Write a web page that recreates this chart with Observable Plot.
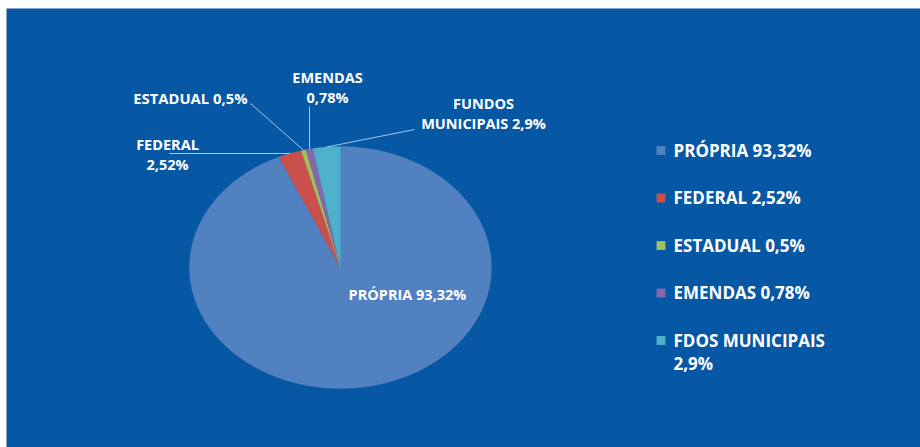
<!DOCTYPE html>
<html>
<head>
<meta charset="utf-8">
<script src="https://cdn.jsdelivr.net/npm/d3@7"></script>
<script src="https://cdn.jsdelivr.net/npm/@observablehq/plot@0.6"></script>
<style>
  html, body { margin: 0; padding: 0; background: #ffffff; }
  svg { display: block; }
</style>
</head>
<body>
<div id="chart"></div>
<script>
// ---- data ----
const categories = ["PRÓPRIA", "FEDERAL", "ESTADUAL", "EMENDAS", "FDOS MUNICIPAIS"];
const labelNames = ["PRÓPRIA", "FEDERAL", "ESTADUAL", "EMENDAS", "FUNDOS MUNICIPAIS"];
const values = [93.32, 2.52, 0.5, 0.78, 2.9];
const valueLabels = ["93,32%", "2,52%", "0,5%", "0,78%", "2,9%"];
const colors = ["#5181c0", "#c9504c", "#a3c15b", "#8568a8", "#4eb0cb"];

// ---- layout (pixels) ----
const W = 920, H = 447;
const CX = 340, CY = 267, RX = 151, RY = 121;
const ux = px => (px - CX) / RX;
const uy = py => (CY - py) / RY;
const FONT = "'Open Sans', Lato, sans-serif";
const BG = "#0657a4";

// label placement (text anchor point in px, line breaks, leader end in px)
const labelLayout = [
  {x: 407, y: 293, anchor: "middle", text: (n, v) => `${n} ${v}`, leader: null},
  {x: 167, y: 153, anchor: "middle", text: (n, v) => `${n}\n${v}`, leader: [169, 153]},
  {x: 247, y: 99, anchor: "end", text: (n, v) => `${n} ${v}`, leader: [250, 103]},
  {x: 327, y: 86, anchor: "middle", text: (n, v) => `${n}\n${v}`, leader: [309, 106]},
  {x: 483, y: 112, anchor: "middle", text: (n, v) => `${n.split(" ")[0]}\n${n.split(" ").slice(1).join(" ")} ${v}`, leader: [414, 129]}
];

// ---- pie geometry from the data ----
const arcs = d3.pie().sort(null).value(d => d)(values);
const polys = [];
arcs.forEach((a, i) => {
  const name = categories[i];
  polys.push({name, x: 0, y: 0});
  const n = Math.max(2, Math.ceil((a.endAngle - a.startAngle) / (Math.PI / 360)));
  for (let k = 0; k <= n; k++) {
    const t = a.startAngle + (a.endAngle - a.startAngle) * k / n;
    polys.push({name, x: Math.sin(t), y: Math.cos(t)});
  }
  polys.push({name, x: 0, y: 0});
});

const labels = arcs.map((a, i) => {
  const L = labelLayout[i];
  const mid = (a.startAngle + a.endAngle) / 2;
  return {
    name: categories[i],
    text: L.text(labelNames[i], valueLabels[i]),
    x: ux(L.x), y: uy(L.y), anchor: L.anchor,
    lx1: L.leader ? ux(L.leader[0]) : null,
    ly1: L.leader ? uy(L.leader[1]) : null,
    lx2: Math.sin(mid), ly2: Math.cos(mid)
  };
});
const leaders = labels.filter(d => d.lx1 !== null);

const legendX = 673, legendY0 = 150, legendStep = 47.5;
const legend = categories.map((c, i) => ({
  name: c,
  text: i === 4 ? `${c}\n${valueLabels[i]}` : `${c} ${valueLabels[i]}`,
  i
}));

const plot = Plot.plot({
  width: W,
  height: H,
  margin: 0,
  style: {background: "#ffffff", fontFamily: FONT},
  x: {domain: [-1, 1], range: [CX - RX, CX + RX], axis: null},
  y: {domain: [-1, 1], range: [CY + RY, CY - RY], axis: null},
  color: {domain: categories, range: colors},
  marks: [
    Plot.frame({fill: BG, stroke: null, insetTop: 8, insetLeft: 6}),
    Plot.line(polys, {x: "x", y: "y", z: "name", fill: "name", stroke: "name", strokeWidth: 0.3, curve: "linear"}),
    Plot.link(leaders, {x1: "lx1", y1: "ly1", x2: "lx2", y2: "ly2", stroke: "#a8c8ea", strokeWidth: 1}),
    Plot.text(labels.filter(d => d.anchor === "middle"), {
      x: "x", y: "y", text: "text", textAnchor: "middle", lineAnchor: "middle",
      fill: "#ffffff", fontWeight: "bold", fontSize: 14.5, lineHeight: 1.37
    }),
    Plot.text(labels.filter(d => d.anchor === "end"), {
      x: "x", y: "y", text: "text", textAnchor: "end", lineAnchor: "middle",
      fill: "#ffffff", fontWeight: "bold", fontSize: 14.8
    }),
    Plot.dot(legend, {
      x: () => ux(660.5), y: d => uy(legendY0 + legendStep * d.i),
      symbol: "square", r: 5, fill: "name", stroke: null
    }),
    Plot.text(legend, {
      x: () => ux(legendX), y: d => uy(legendY0 + legendStep * d.i - 10.5),
      text: "text", textAnchor: "start", lineAnchor: "top",
      fill: "#ffffff", fontWeight: "bold", fontSize: 17, lineHeight: 1.37
    })
  ]
});
document.getElementById("chart").appendChild(plot);
</script>
</body>
</html>
